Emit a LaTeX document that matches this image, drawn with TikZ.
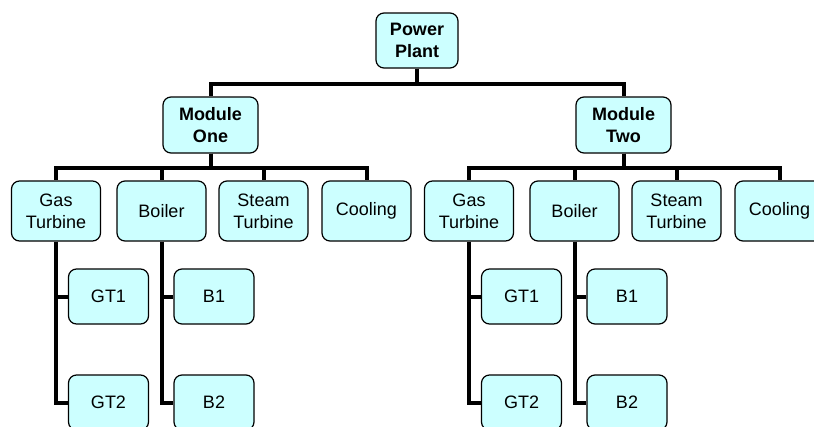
\documentclass[tikz,border=0pt]{standalone}
\usepackage{fontspec}
\setmainfont{Liberation Sans}
\definecolor{boxcyan}{HTML}{CCFFFF}
\tikzset{
  unitbox/.style={draw=black, line width=1.2pt, fill=boxcyan, rounded corners=8pt,
    align=center, inner sep=0pt, font=\fontsize{18}{22}\selectfont},
  topbox/.style={unitbox, font=\fontsize{18}{22}\selectfont\bfseries},
  partbox/.style={unitbox, minimum width=89pt, minimum height=60pt},
  subbox/.style={unitbox, minimum width=80pt, minimum height=55pt},
  link/.style={draw=black, line width=4pt}
}
\begin{document}
\begin{tikzpicture}[x=1pt,y=-1pt]
\useasboundingbox (0,0) rectangle (814,426);
\clip (0,0) rectangle (814,426);
% top of the tree
\node [topbox, minimum width=82pt, minimum height=55pt] (plant) at (417,40.5) {Power\\Plant};
\node [topbox, minimum width=95pt, minimum height=56pt] (modone) at (210.5,125) {Module\\One};
\node [topbox, minimum width=95pt, minimum height=56pt] (modtwo) at (623.5,125) {Module\\Two};
\draw [link] (plant.south) -- ++(0,15) -| (modone.north);
\draw [link] (plant.south) -- ++(0,15) -| (modtwo.north);
% module one
\node [partbox] (gasone) at (56,211) {Gas\\Turbine};
\node [partbox] (boilone) at (161.5,211) {Boiler};
\node [partbox] (steamone) at (263.5,211) {Steam\\Turbine};
\node [partbox] (coolone) at (366.5,211) {Cooling};
\draw [link] (modone.south) -- ++(0,14) -| (gasone.north);
\draw [link] (modone.south) -- ++(0,14) -| (boilone.north);
\draw [link] (modone.south) -- ++(0,14) -| (steamone.north);
\draw [link] (modone.south) -- ++(0,14) -| (coolone.north);
\node [subbox] (gtaone) at (108.5,296.5) {GT1};
\node [subbox] (gtbone) at (108.5,402.5) {GT2};
\node [subbox] (baone) at (214,296.5) {B1};
\node [subbox] (bbone) at (214,402.5) {B2};
\draw [link] (gasone.south) |- (gtaone.west);
\draw [link] (gasone.south) |- (gtbone.west);
\draw [link] (boilone.south) |- (baone.west);
\draw [link] (boilone.south) |- (bbone.west);
% module two
\node [partbox] (gastwo) at (469,211) {Gas\\Turbine};
\node [partbox] (boiltwo) at (574.5,211) {Boiler};
\node [partbox] (steamtwo) at (676.5,211) {Steam\\Turbine};
\node [partbox] (cooltwo) at (779.5,211) {Cooling};
\draw [link] (modtwo.south) -- ++(0,14) -| (gastwo.north);
\draw [link] (modtwo.south) -- ++(0,14) -| (boiltwo.north);
\draw [link] (modtwo.south) -- ++(0,14) -| (steamtwo.north);
\draw [link] (modtwo.south) -- ++(0,14) -| (cooltwo.north);
\node [subbox] (gtatwo) at (521.5,296.5) {GT1};
\node [subbox] (gtbtwo) at (521.5,402.5) {GT2};
\node [subbox] (batwo) at (627,296.5) {B1};
\node [subbox] (bbtwo) at (627,402.5) {B2};
\draw [link] (gastwo.south) |- (gtatwo.west);
\draw [link] (gastwo.south) |- (gtbtwo.west);
\draw [link] (boiltwo.south) |- (batwo.west);
\draw [link] (boiltwo.south) |- (bbtwo.west);
\end{tikzpicture}
\end{document}
